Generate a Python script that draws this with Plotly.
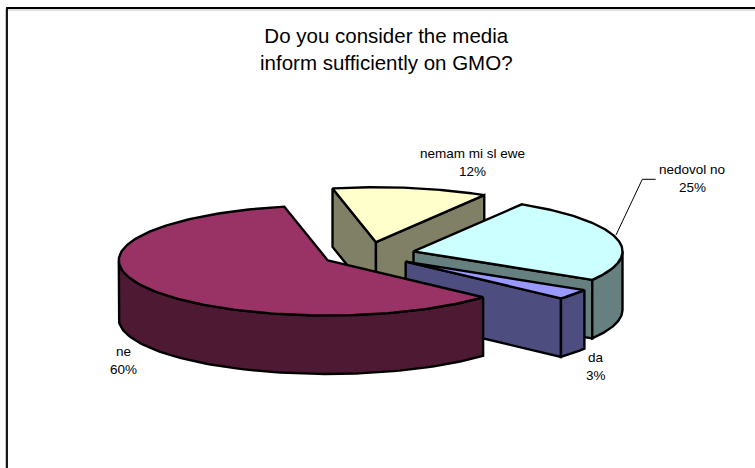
import numpy as np
import plotly.graph_objects as go

# Survey answers, in clockwise order from the first slice
categories = ["da", "ne", "nemam mi sl ewe", "nedovol no"]
shares = [3, 60, 12, 25]
top_colors = ["#9999FF", "#993366", "#FFFFCC", "#CCFFFF"]
side_colors = ["#4D4D80", "#4D1933", "#808066", "#668080"]
label_xy = [(595.5, 357), (123, 351), (472, 153), (692, 169)]

# Pie geometry in page pixels
CX, CY = 368.2, 254.3
RX, RY = 209.0, 55.0
DEPTH = 58.5
EXPLODE = 0.2232
FIRST_ANGLE = 121.2   # degrees clockwise from twelve o'clock
LABEL_LINE = 18.7
W, H = 755, 468


def rim(theta_deg, ox, oy):
    t = np.radians(theta_deg)
    return ox + RX * np.sin(t), oy - RY * np.cos(t)


def polygon(xs, ys, fill):
    xs, ys = np.append(xs, xs[0]), np.append(ys, ys[0])
    return go.Scatter(x=xs, y=ys, mode="lines", fill="toself", fillcolor=fill,
                      line=dict(color="black", width=2.4),
                      hoverinfo="skip", showlegend=False)


def stroke(xs, ys, color, width):
    return go.Scatter(x=xs, y=ys, mode="lines", line=dict(color=color, width=width),
                      hoverinfo="skip", showlegend=False)


# Slice spans from the shares
totals = np.cumsum([0] + shares)
spans = [(FIRST_ANGLE + 3.6 * totals[i], FIRST_ANGLE + 3.6 * totals[i + 1])
         for i in range(len(shares))]

fig = go.Figure()

# Chart frame, open at the right and bottom page edges
fig.add_trace(stroke([5.5, 5.5], [H, 9], "#C8C8C8", 1))
fig.add_trace(stroke([8, W], [10, 10], "#C0C0C0", 1))
fig.add_trace(stroke([7, 7, W], [H, 8, 8], "black", 1.8))

for i in [2, 3, 0, 1]:  # back to front
    t1, t2 = spans[i]
    mid = np.radians((t1 + t2) / 2)
    ox = CX + EXPLODE * RX * np.sin(mid)
    oy = CY - EXPLODE * RY * np.cos(mid)

    # Radial walls facing the viewer
    for theta, normal in ((t1, t1 - 90), (t2, t2 + 90)):
        if np.cos(np.radians(normal)) < 0:
            ex, ey = rim(theta, ox, oy)
            fig.add_trace(polygon(np.array([ox, ex, ex, ox]),
                                  np.array([oy, ey, ey + DEPTH, oy + DEPTH]),
                                  side_colors[i]))

    # Outer wall: the part of the rim on the near half of the ellipse
    wrap = 360 if t1 >= 360 else 0
    lo, hi = max(t1 - wrap, 90), min(t2 - wrap, 270)
    if hi > lo:
        th = np.linspace(lo, hi, 80)
        ax, ay = rim(th, ox, oy)
        fig.add_trace(polygon(np.concatenate([ax, ax[::-1]]),
                              np.concatenate([ay, ay[::-1] + DEPTH]),
                              side_colors[i]))

    # Top face
    th = np.linspace(t1, t2, 160)
    ax, ay = rim(th, ox, oy)
    fig.add_trace(polygon(np.concatenate([[ox], ax]),
                          np.concatenate([[oy], ay]), top_colors[i]))

# Leader line for the slice whose label sits away from it
fig.add_trace(stroke([616, 642.3, 655.7], [235, 179.3, 179.3], "black", 1))

annotations = [
    dict(x=386, y=48.5, text="Do you consider the media<br>inform sufficiently on GMO?",
         font=dict(size=20.5, color="black", family="Liberation Sans"))
]
label_font = dict(size=13.5, color="black", family="Liberation Sans")
for name, share, (lx, ly) in zip(categories, shares, label_xy):
    annotations.append(dict(x=lx, y=ly, text=name, font=label_font))
    annotations.append(dict(x=lx, y=ly + LABEL_LINE, text=f"{share}%", font=label_font))
for a in annotations:
    a.update(xref="x", yref="y", showarrow=False, align="center",
             xanchor="center", yanchor="middle")

fig.update_layout(
    width=W, height=H, margin=dict(l=0, r=0, t=0, b=0),
    paper_bgcolor="white", plot_bgcolor="white",
    xaxis=dict(range=[0, W], visible=False, fixedrange=True),
    yaxis=dict(range=[H, 0], visible=False, fixedrange=True),
    annotations=annotations,
)
fig.write_html("out.html", config=dict(displayModeBar=False))
